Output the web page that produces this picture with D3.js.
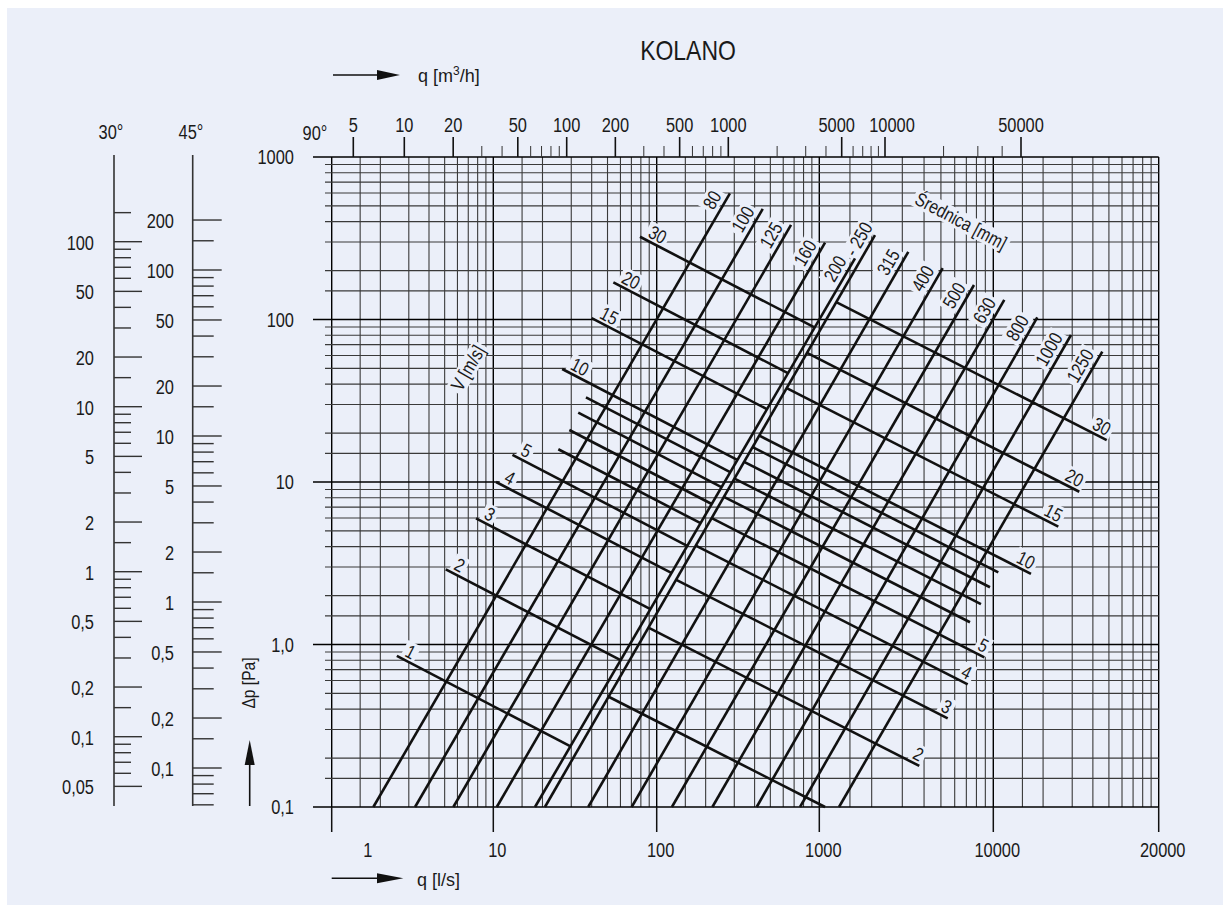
<!DOCTYPE html>
<html>
<head>
<meta charset="utf-8">
<script src="https://cdn.jsdelivr.net/npm/d3@7"></script>
<style>
  body { margin: 0; background: #fff; }
  svg { display: block; }
  text { font-family: "Liberation Sans", Arial, sans-serif; fill: #1a1a1a; }
</style>
</head>
<body>
<script>
// ---- data ----
const gridSteps = [1, 1.5, 2, 3, 4, 5, 6, 7, 8, 9];            // sub-lines in every decade
const qDecades = [1, 10, 100, 1000, 10000, 100000];              // q grid decades (l/s)
const qBottomLabels = ["1", "10", "100", "1000", "10000", "20000"];
const dpDecades = [0.1, 1, 10, 100, 1000];                       // dp grid decades (Pa)
const dpLabels = ["0,1", "1,0", "10", "100", "1000"];

const topAnchors = [5, 10, 100, 1000, 5000, 10000, 50000];       // q [m3/h] scale anchors
const topMajor = [5, 10, 20, 50, 100, 200, 500, 1000, 5000, 10000, 50000];
const topMinor = [30, 40, 60, 70, 80, 90, 300, 400, 600, 700, 800, 900,
                  2000, 3000, 4000, 6000, 7000, 8000, 9000, 20000, 30000, 40000];

const scale30Major = [100, 50, 20, 10, 5, 2, 1, 0.5, 0.2, 0.1, 0.05];
const scale30Minor = [150, 90, 80, 70, 60, 40, 30, 15, 9, 8, 7, 6, 4, 3, 1.5,
                      0.9, 0.8, 0.7, 0.6, 0.4, 0.3, 0.15, 0.09, 0.08, 0.07, 0.06];
const scale45Major = [200, 100, 50, 20, 10, 5, 2, 1, 0.5, 0.2, 0.1];
const scale45Minor = [150, 90, 80, 70, 60, 40, 30, 15, 9, 8, 7, 6, 4, 3, 1.5,
                      0.9, 0.8, 0.7, 0.6, 0.4, 0.3, 0.15, 0.09, 0.08, 0.07, 0.06];

// diameter lines: [q bottom, dp bottom, q top, dp top]
const diameterLabels = ["80", "100", "125", "160", "200", "- 250", "315", "400", "500", "630", "800", "1000", "1250"];
const diameterLines = [
  [1.81, 0.1, 282, 598],
  [3.28, 0.1, 449, 479],
  [5.66, 0.1, 670, 382],
  [10.5, 0.1, 1079, 297],
  [18.0, 0.1, 1604, 238],
  [20.7, 0.1, 2090, 331],
  [38.1, 0.1, 3247, 261],
  [70.3, 0.1, 5120, 207],
  [124, 0.1, 7745, 163],
  [220, 0.1, 11650, 132],
  [412, 0.1, 18450, 103],
  [761, 0.1, 29500, 80.3],
  [1298, 0.1, 45600, 63.4]
];

// velocity lines, split at the 200/250 jump: [q start, dp start, q end, dp end]
const velocityLabels = ["1", "2", "3", "4", "5", "", "", "", "", "10", "15", "20", "30"];
const velocityRightLabels = ["", "2", "3", "4", "5", "", "", "", "", "10", "15", "20", "30"];
const velocityLeft = [
  [2.53, 0.850, 29.7, 0.236],
  [5.08, 2.90, 60.1, 0.801],
  [7.82, 5.98, 91.5, 1.65],
  [10.4, 10.0, 123, 2.76],
  [13.1, 14.7, 154, 4.05],
  [25.0, 15.9, 186, 5.58],
  [29.2, 20.9, 218, 7.32],
  [33.1, 26.7, 250, 9.30],
  [36.9, 33.2, 283, 11.5],
  [26.4, 49.6, 313, 13.7],
  [40.0, 102, 476, 28.1],
  [54.3, 169, 641, 46.8],
  [79.0, 323, 934, 89.4]
];
const velocityRight = [
  [50.8, 0.477, 1079, 0.1],
  [89.0, 1.27, 3755, 0.179],
  [132, 2.50, 5469, 0.351],
  [174, 4.06, 7127, 0.569],
  [218, 5.99, 8878, 0.834],
  [259, 8.11, 7346, 1.37],
  [301, 10.5, 8497, 1.77],
  [345, 13.3, 9572, 2.25],
  [389, 16.4, 10720, 2.78],
  [428, 19.3, 16900, 2.72],
  [630, 37.8, 24720, 5.31],
  [841, 62.3, 33110, 8.71],
  [1252, 128, 48490, 18.1]
];

// ---- page ----
const W = 1230, H = 912;
const bg = "#ebeff9";
const squeeze = 0.82; // the original lettering is a narrow sans
const fmt = v => String(v).replace(".", ",");

const svg = d3.select("body").append("svg").attr("width", W).attr("height", H);
svg.append("rect").attr("width", W).attr("height", H).attr("fill", "#fff");
svg.append("rect").attr("x", 7).attr("y", 8).attr("width", 1216).attr("height", 897).attr("fill", bg);

function narrow(node) {
  if (node.hasAttribute("textLength") || node.hasAttribute("data-wide")) return;
  const len = node.getComputedTextLength();
  if (len > 0) {
    node.setAttribute("textLength", (len * squeeze).toFixed(2));
    node.setAttribute("lengthAdjust", "spacingAndGlyphs");
  }
}

// scales (the printed grid is not perfectly even, so the log scales are piecewise)
const x = d3.scaleLog().domain(qDecades).range([331.7, 493.3, 656.7, 819.3, 993.3, 1158.7]);
const y = d3.scaleLog().domain([0.1, 1000]).range([807, 157]);
const xTop = d3.scaleLog().domain(topAnchors).range([353.3, 404.3, 566.7, 728.3, 841.7, 885, 1021]);
const y30 = d3.scaleLog().domain([0.1, 100]).range([736.7, 241.7]);
const y45 = d3.scaleLog().domain([0.1, 100]).range([768, 270]);

const xMax = x(qDecades[qDecades.length - 1]);
const yTop = y(1000), yBot = y(0.1);

// grid
const grid = svg.append("g");
const vLines = [];
qDecades.slice(0, -1).forEach(d => gridSteps.forEach(k => vLines.push({ v: k * d, major: k === 1 })));
vLines.push({ v: qDecades[qDecades.length - 1], major: true });
grid.selectAll("line.v").data(vLines).join("line")
    .attr("x1", d => x(d.v)).attr("x2", d => x(d.v))
    .attr("y1", yTop).attr("y2", yBot)
    .attr("stroke", d => d.major ? "#000" : "#3a3a3a")
    .attr("stroke-width", d => d.major ? 1.4 : 1.1);

const hLines = [];
dpDecades.slice(0, -1).forEach(d => gridSteps.forEach(k => hLines.push({ v: k * d, major: k === 1 })));
hLines.push({ v: 1000, major: true });
grid.selectAll("line.h").data(hLines).join("line")
    .attr("x1", d => d.major ? 313 : 325).attr("x2", xMax)
    .attr("y1", d => y(d.v)).attr("y2", d => y(d.v))
    .attr("stroke", d => d.major ? "#000" : "#3a3a3a")
    .attr("stroke-width", d => d.major ? 1.4 : 1.1);

// label patches sit above the grid but under the drawn lines
const masks = svg.append("g");

// bottom axis q [l/s]
const bottomAxis = svg.append("g");
bottomAxis.selectAll("line").data(qDecades).join("line")
    .attr("x1", d => x(d)).attr("x2", d => x(d))
    .attr("y1", yBot).attr("y2", yBot + 25)
    .attr("stroke", "#111").attr("stroke-width", 1.5);
bottomAxis.selectAll("text").data(qDecades).join("text")
    .attr("x", (d, i) => x(d) + (i === 0 ? 36 : 4))
    .attr("y", 857)
    .attr("text-anchor", "middle")
    .attr("font-size", 20)
    .text((d, i) => qBottomLabels[i]);

// left dp axis labels
svg.append("g").selectAll("text").data(dpDecades).join("text")
    .attr("x", 294).attr("y", d => y(d) + 7)
    .attr("text-anchor", "end").attr("font-size", 20)
    .text((d, i) => dpLabels[i]);

// top axis q [m3/h]; two crowded labels are nudged apart as printed
const topNudge = { 5000: -5, 10000: 7 };
const topAxis = svg.append("g");
topAxis.selectAll("line.maj").data(topMajor).join("line")
    .attr("x1", d => xTop(d)).attr("x2", d => xTop(d))
    .attr("y1", 137).attr("y2", yTop)
    .attr("stroke", "#111").attr("stroke-width", 1.6);
topAxis.selectAll("line.min").data(topMinor).join("line")
    .attr("x1", d => xTop(d)).attr("x2", d => xTop(d))
    .attr("y1", 146).attr("y2", yTop)
    .attr("stroke", "#333").attr("stroke-width", 1);
topAxis.selectAll("text").data(topMajor).join("text")
    .attr("x", d => xTop(d) + (topNudge[d] || 0)).attr("y", 132)
    .attr("text-anchor", "middle").attr("font-size", 20)
    .text(d => d);

// angle scales (30 and 45 degrees)
function angleScale(sc, axisX, major, minor, longLen, shortLen, labelX) {
  const g = svg.append("g");
  g.append("line").attr("x1", axisX).attr("x2", axisX).attr("y1", 155).attr("y2", 806)
      .attr("stroke", "#333").attr("stroke-width", 1.6);
  g.selectAll("line.mj").data(major).join("line")
      .attr("x1", axisX).attr("x2", axisX + longLen)
      .attr("y1", d => sc(d)).attr("y2", d => sc(d))
      .attr("stroke", "#333").attr("stroke-width", 1.4);
  g.selectAll("line.mn").data(minor).join("line")
      .attr("x1", axisX).attr("x2", axisX + shortLen)
      .attr("y1", d => sc(d)).attr("y2", d => sc(d))
      .attr("stroke", "#333").attr("stroke-width", 1.4);
  g.selectAll("text").data(major).join("text")
      .attr("x", labelX).attr("y", d => sc(d) + 8)
      .attr("text-anchor", "end").attr("font-size", 20)
      .text(fmt);
}
angleScale(y30, 114, scale30Major, scale30Minor, 28, 17, 94);
angleScale(y45, 192.7, scale45Major, scale45Minor, 29, 21, 174);

svg.append("text").attr("x", 111).attr("y", 139).attr("text-anchor", "middle").attr("font-size", 20).text("30°");
svg.append("text").attr("x", 191).attr("y", 139).attr("text-anchor", "middle").attr("font-size", 20).text("45°");
svg.append("text").attr("x", 315).attr("y", 140).attr("text-anchor", "middle").attr("font-size", 20).text("90°");

// title
svg.append("text").attr("x", 688).attr("y", 60).attr("text-anchor", "middle").attr("font-size", 28).text("KOLANO");

// axis titles with arrows
const arrows = svg.append("g").attr("fill", "#111").attr("stroke", "#111");
arrows.append("line").attr("x1", 333).attr("x2", 380).attr("y1", 75).attr("y2", 75).attr("stroke-width", 1.6);
arrows.append("path").attr("d", "M377,70 L400,75 L377,80 Z").attr("stroke", "none");
const qt = svg.append("text").attr("x", 418).attr("y", 82).attr("font-size", 18).attr("data-wide", 1);
qt.append("tspan").text("q [m");
qt.append("tspan").attr("dy", -7).attr("font-size", 12).text("3");
qt.append("tspan").attr("dy", 7).text("/h]");

arrows.append("line").attr("x1", 331.7).attr("x2", 380).attr("y1", 878.3).attr("y2", 878.3).attr("stroke-width", 1.6);
arrows.append("path").attr("d", "M377,873.3 L403.3,878.3 L377,883.3 Z").attr("stroke", "none");
svg.append("text").attr("x", 417).attr("y", 886).attr("font-size", 18).attr("data-wide", 1).text("q [l/s]");

arrows.append("line").attr("x1", 249.7).attr("x2", 249.7).attr("y1", 806).attr("y2", 762).attr("stroke-width", 1.6);
arrows.append("path").attr("d", "M244.7,765 L249.7,740 L254.7,765 Z").attr("stroke", "none");
svg.append("text").attr("transform", "translate(255,683) rotate(-90)")
    .attr("text-anchor", "middle").attr("font-size", 19).text("Δp [Pa]");

// diameter and velocity lines
const marks = svg.append("g").attr("stroke", "#111").attr("stroke-width", 2.6).attr("fill", "none");
const seg = d => [[x(d[0]), y(d[1])], [x(d[2]), y(d[3])]];
const line = d3.line();
marks.selectAll("path.d").data(diameterLines).join("path").attr("d", d => line(seg(d)));
marks.selectAll("path.vl").data(velocityLeft).join("path").attr("d", d => line(seg(d)));
marks.selectAll("path.vr").data(velocityRight).join("path").attr("d", d => line(seg(d)));

// labels with a background patch that hides the grid
const labels = svg.append("g");
function maskedLabel(px, py, angle, str, dx, dy, anchor, size) {
  const tf = `translate(${px},${py}) rotate(${angle})`;
  const t = labels.append("g").attr("transform", tf).append("text")
      .attr("x", dx).attr("y", dy)
      .attr("text-anchor", anchor).attr("dominant-baseline", "central")
      .attr("font-size", size).text(str);
  narrow(t.node());
  const b = t.node().getBBox();
  masks.append("rect").attr("transform", tf)
      .attr("x", b.x - 3).attr("y", b.y + 1)
      .attr("width", b.width + 6).attr("height", b.height - 2).attr("fill", bg);
}
const angleOf = p => Math.atan2(p[1][1] - p[0][1], p[1][0] - p[0][0]) * 180 / Math.PI;

diameterLines.forEach((d, i) => {
  const p = seg(d);
  const dx = diameterLabels[i].startsWith("-") ? 6 : -6;
  maskedLabel(p[1][0], p[1][1], angleOf(p), diameterLabels[i], dx, -12, "end", 19);
});
velocityLeft.forEach((d, i) => {
  if (!velocityLabels[i]) return;
  const p = seg(d);
  maskedLabel(p[0][0], p[0][1], angleOf(p), velocityLabels[i], 6, -10, "start", 19);
});
velocityRight.forEach((d, i) => {
  if (!velocityRightLabels[i]) return;
  const p = seg(d);
  maskedLabel(p[1][0], p[1][1], angleOf(p), velocityRightLabels[i], -2, -10, "end", 19);
});

maskedLabel(468, 368, -60, "V [m/s]", 0, 0, "middle", 19);
maskedLabel(961, 221, 28, "Średnica [mm]", 0, 0, "middle", 19);

// squeeze the remaining lettering to the narrow face of the original
svg.selectAll("text").each(function () { narrow(this); });
</script>
</body>
</html>
